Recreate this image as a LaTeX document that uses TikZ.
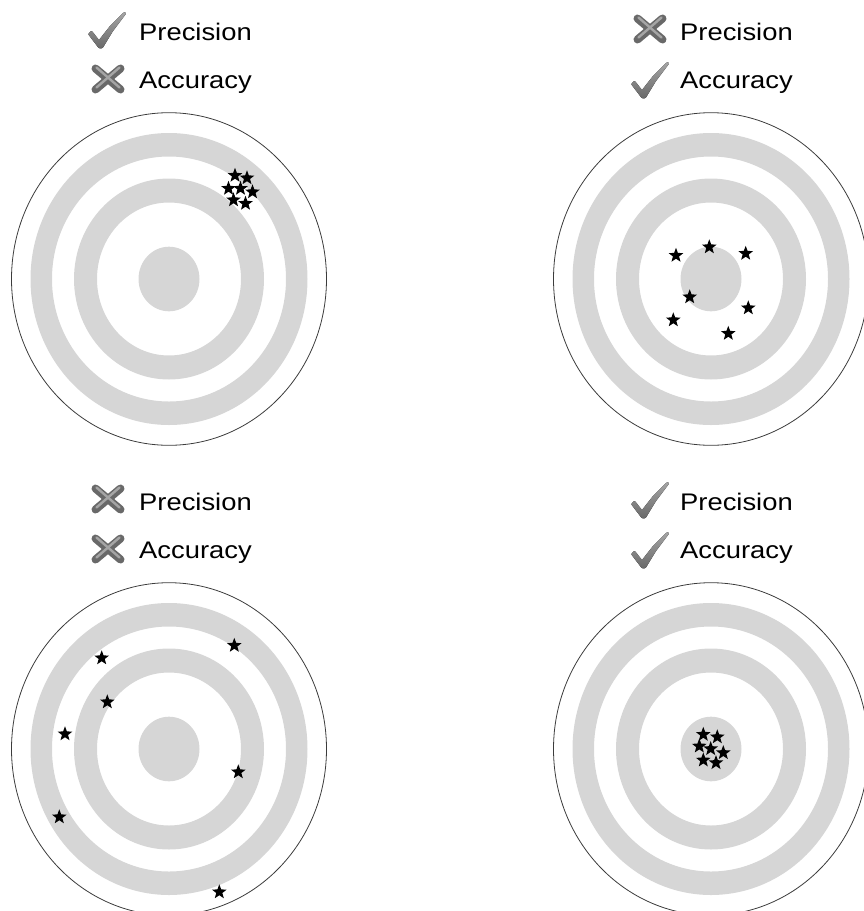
\documentclass[tikz,border=0pt]{standalone}
\usepackage{fontspec}
\setmainfont{Liberation Sans}
\usetikzlibrary{shapes.geometric}
\definecolor{ringgray}{RGB}{214,214,214}
\definecolor{rimline}{RGB}{60,60,60}
\definecolor{icondark}{RGB}{105,105,105}
\definecolor{iconlight}{RGB}{165,165,165}
\begin{document}
\begin{tikzpicture}[x=1pt,y=-1pt,
  mystar/.style={star, star points=5, star point ratio=2.4, fill=black, draw=none, inner sep=0pt, minimum size=15.4pt},
  label/.style={anchor=base west, font=\fontsize{24}{26}\selectfont, xscale=1.14, inner sep=0pt},
  target/.pic={
    \fill[ringgray, even odd rule] (0,0) ellipse [x radius=138.5pt, y radius=146pt] (0,0) ellipse [x radius=117pt, y radius=122.5pt];
    \fill[ringgray, even odd rule] (0,0) ellipse [x radius=95pt, y radius=100.5pt] (0,0) ellipse [x radius=72pt, y radius=76.5pt];
    \fill[ringgray] (0,0) ellipse [x radius=30.5pt, y radius=32.3pt];
    \draw[rimline, line width=0.8pt] (0,0) ellipse [x radius=157.5pt, y radius=166.3pt];
  },
  checkicon/.pic={
    \fill[top color=iconlight, bottom color=icondark, rounded corners=1pt]
      (-12,-14) -- (-8.5,-17.5) -- (-1,-8) -- (10,-22) -- (24,-36) -- (26.5,-35) -- (13,-17) -- (2.5,0.3) -- (-1,0.5) -- cycle;
  },
  crossicon/.pic={
    \draw[icondark, line width=8pt, line cap=round] (-12.5,-10.5) -- (12.5,10.5);
    \draw[icondark, line width=8pt, line cap=round] (12.5,-10.5) -- (-12.5,10.5);
    \draw[iconlight, line width=2.4pt, line cap=round] (-11.5,-11.5) -- (11.5,8.5);
    \draw[iconlight, line width=2.4pt, line cap=round] (11.5,-11.5) -- (-11.5,8.5);
  }
]
\useasboundingbox (0,0) rectangle (864,911);
\clip (0,0) rectangle (864,911);

% targets
\pic at (169,279) {target};
\pic at (711,279) {target};
\pic at (169,749) {target};
\pic at (711,749) {target};

% labels top-left
\node[label] (tlp) at (139,40.5) {Precision};
\node[label] (tla) at (139,88.5) {Accuracy};
\pic at (100,48) {checkicon};
\pic at (108,79) {crossicon};

% labels top-right
\node[label] (trp) at (680,40.5) {Precision};
\node[label] (tra) at (680,88.5) {Accuracy};
\pic at (650,29) {crossicon};
\pic at (643,98) {checkicon};

% labels bottom-left
\node[label] (blp) at (139,510.5) {Precision};
\node[label] (bla) at (139,558.5) {Accuracy};
\pic at (108,499) {crossicon};
\pic at (108,549) {crossicon};

% labels bottom-right
\node[label] (brp) at (680,510.5) {Precision};
\node[label] (bra) at (680,558.5) {Accuracy};
\pic at (643,518) {checkicon};
\pic at (643,568) {checkicon};

% stars top-left (precise, not accurate)
\node[mystar] (a1) at (235,175.5) {};
\node[mystar] (a2) at (247,178) {};
\node[mystar] (a3) at (228.5,188.5) {};
\node[mystar] (a4) at (240.5,188.5) {};
\node[mystar] (a5) at (252.5,192) {};
\node[mystar] (a6) at (233.5,200) {};
\node[mystar] (a7) at (245.5,203.5) {};

% stars top-right
\node[mystar] (b1) at (676,255.5) {};
\node[mystar] (b2) at (709.3,247) {};
\node[mystar] (b3) at (745.7,253.5) {};
\node[mystar] (b4) at (689.7,297) {};
\node[mystar] (b5) at (748.3,308) {};
\node[mystar] (b6) at (673.3,320) {};
\node[mystar] (b7) at (728.3,333.5) {};

% stars bottom-left
\node[mystar] (c1) at (101.7,658) {};
\node[mystar] (c2) at (234.3,645.5) {};
\node[mystar] (c3) at (107.3,702) {};
\node[mystar] (c4) at (65,734) {};
\node[mystar] (c5) at (238.3,772) {};
\node[mystar] (c6) at (59.3,817) {};
\node[mystar] (c7) at (219.3,892) {};

% stars bottom-right
\node[mystar] (d1) at (703.3,734.5) {};
\node[mystar] (d2) at (717.3,737) {};
\node[mystar] (d3) at (699.3,746.2) {};
\node[mystar] (d4) at (710.7,748.8) {};
\node[mystar] (d5) at (723.3,752.8) {};
\node[mystar] (d6) at (703.3,760.2) {};
\node[mystar] (d7) at (716,762.8) {};
\end{tikzpicture}
\end{document}
